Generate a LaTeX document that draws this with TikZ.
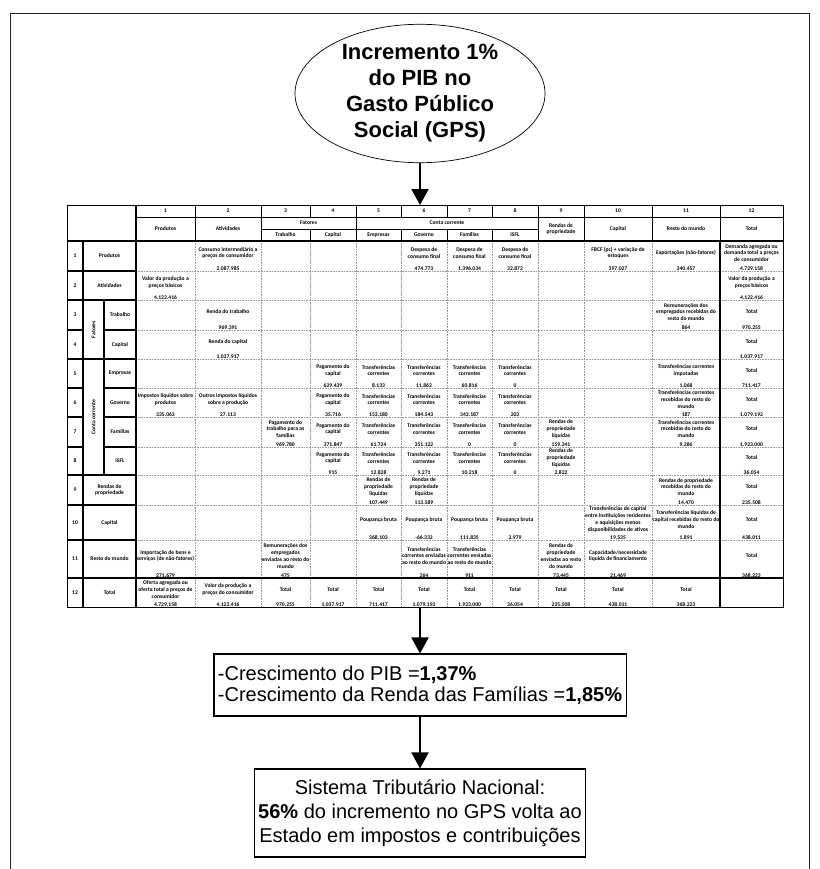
\documentclass[tikz,border=0pt]{standalone}
\usepackage{fontspec}
\setmainfont{Liberation Sans}
\newfontfamily\cellfont{Carlito}
\usetikzlibrary{shapes.geometric, arrows.meta, positioning}

% column and row edges of the matrix
\foreach \i/\v in {0/67,1/136,2/195,3/261,4/310,5/356,6/401,7/447,8/492,9/538,10/584,11/652,12/720,13/783}
{
	\expandafter\xdef\csname samcx\i\endcsname{\v}
}
\foreach \i/\v in {0/205,1/241,2/271,3/300,4/330,5/359,6/388,7/417,8/447,9/475,10/505,11/540,12/578,13/607}
{
	\expandafter\xdef\csname samry\i\endcsname{\v}
}
\def\cx#1{\csname samcx\number\numexpr#1\relax\endcsname}
\def\ry#1{\csname samry\number\numexpr#1\relax\endcsname}

\tikzset{
	celltext/.style={font=\cellfont\bfseries\fontsize{5.6}{6.7}\selectfont, align=center, inner sep=0pt},
	cellval/.style={celltext, anchor=base},
	gridline/.style={gray!80, densely dotted, line width=0.6pt},
	tabline/.style={black, line width=0.7pt},
	boldline/.style={black, line width=1.3pt},
	flowarrow/.style={line width=2pt, -{Triangle[length=16pt,width=17pt]}},
	gpsnode/.style={ellipse, draw, line width=0.7pt, minimum width=250pt, minimum height=123pt, inner sep=0pt, align=center, font=\bfseries\fontsize{22}{26}\selectfont},
	resbox/.style={draw, line width=1.1pt, inner xsep=4pt, fill=white, font=\fontsize{20}{21}\selectfont}
}

% one cell of the matrix: row, column, text, value
\newcommand{\samcell}[4]{%
	\pgfmathsetmacro{\xa}{\cx{#2}}
	\pgfmathsetmacro{\xb}{\cx{#2+1}}
	\pgfmathsetmacro{\ya}{\ry{#1}}
	\pgfmathsetmacro{\yb}{\ry{#1+1}}
	\node[celltext] (d-#1-#2) at ({(\xa+\xb)/2},{(\ya+\yb-6)/2}) {#3};
	\node[cellval] (v-#1-#2) at ({(\xa+\xb)/2},{\yb-1}) {#4};
}

\begin{document}
\begin{tikzpicture}[x=1pt, y=-1pt]
	\useasboundingbox (0,0) rectangle (819,869);
	\draw[black!85, line width=1pt] (10,880) -- (10,14) -- (809,14) -- (809,880);

	\node[gpsnode] (gps) at (420,93.5) {Incremento 1\%\\do PIB no\\Gasto Público\\Social (GPS)};

	\coordinate (tabtop) at (420,205);
	\coordinate (tabbot) at (420,607);

	% grid of the matrix
	\begin{scope}
		\foreach \y in {271,300,330,359,388,417,447,475,505,540}
		{
			\draw[gridline] (136,\y) -- (783,\y);
		}
		\foreach \x in {195,261,310,356,401,447,492,538,584,652}
		{
			\draw[gridline] (\x,241) -- (\x,607);
		}
		\draw[boldline] (720,241) -- (720,607);
		\draw[boldline] (67,578) -- (783,578);
		\draw[boldline] (67,241) -- (783,241);
		\draw[tabline] (136,217) -- (783,217);
		\draw[tabline] (261,229) -- (538,229);
		\foreach \x in {195,261,356,538,584,652,720}
		{
			\draw[tabline] (\x,205) -- (\x,241);
		}
		\foreach \x in {310,401,447,492}
		{
			\draw[tabline] (\x,205) -- (\x,217);
			\draw[tabline] (\x,229) -- (\x,241);
		}
		\draw[boldline] (83,241) -- (83,607);
		\draw[boldline] (136,205) -- (136,607);
		\draw[boldline] (104,300) -- (104,475);
		\foreach \y in {271,300,359,475,505,540}
		{
			\draw[boldline] (67,\y) -- (136,\y);
		}
		\foreach \y in {330,388,417,447}
		{
			\draw[boldline] (67,\y) -- (83,\y);
			\draw[boldline] (104,\y) -- (136,\y);
		}
		\draw[tabline] (67,205) rectangle (783,607);
	\end{scope}

	% headers
	\begin{scope}
		\foreach \c in {1,...,12}
		{
			\pgfmathsetmacro{\xa}{\cx{\c}}
			\pgfmathsetmacro{\xb}{\cx{\c+1}}
			\node[celltext] (n-\c) at ({(\xa+\xb)/2},211) {\c};
		}
		\node[celltext] (h-1) at (165.5,229) {Produtos};
		\node[celltext] (h-2) at (228,229) {Atividades};
		\node[celltext] (h-fat) at (308.5,223) {Fatores};
		\node[celltext] (h-3) at (285.5,235) {Trabalho};
		\node[celltext] (h-4) at (333,235) {Capital};
		\node[celltext] (h-cc) at (447,223) {Conta corrente};
		\node[celltext] (h-5) at (378.5,235) {Empresas};
		\node[celltext] (h-6) at (424,235) {Governo};
		\node[celltext] (h-7) at (469.5,235) {Famílias};
		\node[celltext] (h-8) at (515,235) {ISFL};
		\node[celltext] (h-9) at (561,229) {Rendas de\\propriedade};
		\node[celltext] (h-10) at (618,229) {Capital};
		\node[celltext] (h-11) at (686,229) {Resto do mundo};
		\node[celltext] (h-12) at (751.5,229) {Total};
	\end{scope}

	% row labels
	\begin{scope}
		\foreach \r in {1,...,12}
		{
			\pgfmathsetmacro{\ya}{\ry{\r}}
			\pgfmathsetmacro{\yb}{\ry{\r+1}}
			\node[celltext] (r-\r) at (75,{(\ya+\yb)/2}) {\r};
		}
		\node[celltext] (l-1) at (109.5,256) {Produtos};
		\node[celltext] (l-2) at (109.5,285.5) {Atividades};
		\node[celltext, rotate=90] (l-fat) at (93.5,329.5) {Fatores};
		\node[celltext] (l-3) at (120,315) {Trabalho};
		\node[celltext] (l-4) at (120,344.5) {Capital};
		\node[celltext, rotate=90] (l-cc) at (93.5,417) {Conta corrente};
		\node[celltext] (l-5) at (120,373.5) {Empresas};
		\node[celltext] (l-6) at (120,402.5) {Governo};
		\node[celltext] (l-7) at (120,432) {Famílias};
		\node[celltext] (l-8) at (120,461) {ISFL};
		\node[celltext] (l-9) at (109.5,490) {Rendas de\\propriedade};
		\node[celltext] (l-10) at (109.5,522.5) {Capital};
		\node[celltext] (l-11) at (109.5,559) {Resto do mundo};
		\node[celltext] (l-12) at (109.5,592.5) {Total};
	\end{scope}

	% cells
	\begin{scope}
		\samcell{1}{2}{Consumo intermediário a\\preços de consumidor}{2.087.985}
		\foreach \c/\v in {6/474.773, 7/1.396.034, 8/32.872}
		{
			\samcell{1}{\c}{Despesa de\\consumo final}{\v}
		}
		\samcell{1}{10}{FBCF (pc) + variação de\\estoques}{397.027}
		\samcell{1}{11}{Exportações (não-fatores)}{340.457}
		\samcell{1}{12}{Demanda agregada ou\\demanda total a preços\\de consumidor}{4.729.158}

		\samcell{2}{1}{Valor da produção a\\preços básicos}{4.122.416}
		\samcell{2}{12}{Valor da produção a\\preços básicos}{4.122.416}

		\samcell{3}{2}{Renda do trabalho}{969.391}
		\samcell{3}{11}{Remunerações dos\\empregados recebidas do\\resto do mundo}{864}
		\samcell{4}{2}{Renda do capital}{1.037.917}

		\foreach \r/\v in {5/629.439, 6/35.716, 7/371.847, 8/915}
		{
			\samcell{\r}{4}{Pagamento do\\capital}{\v}
		}
		\foreach \c/\v in {5/8.133, 6/11.862, 7/60.816, 8/0}
		{
			\samcell{5}{\c}{Transferências\\correntes}{\v}
		}
		\foreach \c/\v in {5/153.180, 6/184.543, 7/343.187, 8/203}
		{
			\samcell{6}{\c}{Transferências\\correntes}{\v}
		}
		\foreach \c/\v in {5/61.724, 6/351.122, 7/0, 8/0}
		{
			\samcell{7}{\c}{Transferências\\correntes}{\v}
		}
		\foreach \c/\v in {5/12.828, 6/9.271, 7/10.218, 8/0}
		{
			\samcell{8}{\c}{Transferências\\correntes}{\v}
		}
		\samcell{5}{11}{Transferências correntes\\imputadas}{1.068}
		\samcell{6}{1}{Impostos líquidos sobre\\produtos}{335.063}
		\samcell{6}{2}{Outros impostos líquidos\\sobre a produção}{27.113}
		\samcell{6}{11}{Transferências correntes\\recebidas do resto do\\mundo}{187}
		\samcell{7}{3}{Pagamento do\\trabalho para as\\famílias}{969.780}
		\samcell{7}{9}{Rendas de\\propriedade\\líquidas}{159.241}
		\samcell{7}{11}{Transferências correntes\\recebidas do resto do\\mundo}{9.286}
		\samcell{8}{9}{Rendas de\\propriedade\\líquidas}{2.822}

		\samcell{9}{5}{Rendas de\\propriedade\\líquidas}{107.449}
		\samcell{9}{6}{Rendas de\\propriedade\\líquidas}{113.589}
		\samcell{9}{11}{Rendas de propriedade\\recebidas do resto do\\mundo}{14.470}

		\foreach \c/\v in {5/368.103, 6/-66.332, 7/111.835, 8/2.979}
		{
			\samcell{10}{\c}{Poupança bruta}{\v}
		}
		\samcell{10}{10}{Transferências de capital\\entre instituições residentes\\e aquisições menos\\disponibilidades de ativos}{19.535}
		\samcell{10}{11}{Transferências líquidas de\\capital recebidas do resto do\\mundo}{1.891}

		\samcell{11}{1}{Importação de bens e\\serviços (de não-fatores)}{271.679}
		\samcell{11}{3}{Remunerações dos\\empregados\\enviadas ao resto do\\mundo}{475}
		\samcell{11}{6}{Transferências\\correntes enviadas\\ao resto do mundo}{264}
		\samcell{11}{7}{Transferências\\correntes enviadas\\ao resto do mundo}{911}
		\samcell{11}{9}{Rendas de\\propriedade\\enviadas ao resto\\do mundo}{73.445}
		\samcell{11}{10}{Capacidade/necessidade\\líquida de financiamento}{21.469}

		\foreach \r/\v in {3/970.255, 4/1.037.917, 5/711.417, 6/1.079.192, 7/1.923.000, 8/36.054, 9/235.508, 10/438.011, 11/368.223}
		{
			\samcell{\r}{12}{Total}{\v}
		}

		\samcell{12}{1}{Oferta agregada ou\\oferta total a preços de\\consumidor}{4.729.158}
		\samcell{12}{2}{Valor da produção a\\preços do consumidor}{4.122.416}
		\foreach \c/\v in {3/970.255, 4/1.037.917, 5/711.417, 6/1.079.192, 7/1.923.000, 8/36.054, 9/235.508, 10/438.011, 11/368.223}
		{
			\samcell{12}{\c}{Total}{\v}
		}
	\end{scope}

	\node[resbox, align=left, minimum height=62pt] (res) at (420,685) {-Crescimento do PIB =\textbf{1,37\%}\\-Crescimento da Renda das Famílias =\textbf{1,85\%}};
	\node[resbox, align=center, minimum height=88pt, font=\fontsize{20}{24}\selectfont] (stn) at (420,813) {Sistema Tributário Nacional:\\\textbf{56\%} do incremento no GPS volta ao\\Estado em impostos e contribuições};

	\draw[flowarrow] (gps) -- (tabtop);
	\draw[flowarrow] (tabbot) -- (res);
	\draw[flowarrow] (res) -- (stn);
\end{tikzpicture}
\end{document}
